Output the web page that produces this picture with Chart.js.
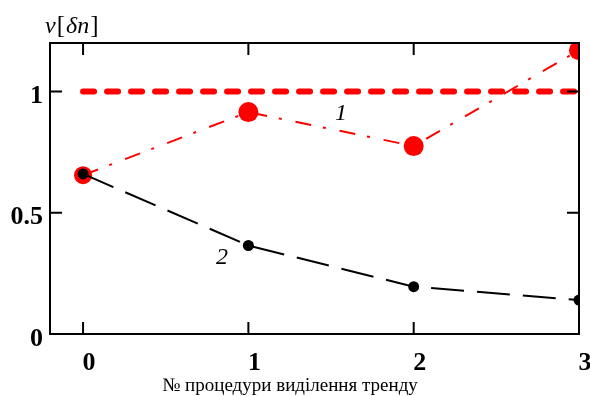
<!DOCTYPE html>
<html>
<head>
<meta charset="utf-8">
<script src="https://cdn.jsdelivr.net/npm/chart.js@4.4.1/dist/chart.umd.min.js"></script>
<style>
  html, body { margin: 0; padding: 0; background: #fff; }
  #wrap { width: 590px; height: 396px; }
</style>
</head>
<body>
<div id="wrap"><canvas id="chart" width="590" height="396"></canvas></div>
<script>
// Values.
const procedures = [0, 1, 2, 3];
const series1 = [0.655, 0.915, 0.775, 1.17];
const series2 = [0.66, 0.365, 0.195, 0.14];
const levelX = [0, 3];
const levelY = [1, 1];
const yTicks = [0, 0.5, 1];
const yTickLabels = ['0', '0.5', '1'];
const seriesNames = ['1', '2'];
const xTitle = '№ процедури виділення тренду';

const SERIF = '"Liberation Serif", "DejaVu Serif", serif';

const toPoints = ( xs, ys ) => xs.map( ( x, i ) => ( { x: x, y: ys[ i ] } ) );

// Frame, inward tick marks and the text labels drawn over the plot.
const framePlugin = {
  id: 'frame',
  afterDraw( chart ) {
    const { ctx, chartArea: a, scales: { x, y } } = chart;
    ctx.save();
    ctx.strokeStyle = '#000';
    ctx.lineWidth = 2;
    ctx.strokeRect( a.left, a.top, a.right - a.left, a.bottom - a.top );
    ctx.beginPath();
    procedures.forEach( v => {
      const px = x.getPixelForValue( v );
      ctx.moveTo( px, a.bottom );
      ctx.lineTo( px, a.bottom - 12 );
      ctx.moveTo( px, a.top );
      ctx.lineTo( px, a.top + 12 );
    } );
    yTicks.forEach( v => {
      const py = y.getPixelForValue( v );
      ctx.moveTo( a.left, py );
      ctx.lineTo( a.left + 12, py );
      ctx.moveTo( a.right, py );
      ctx.lineTo( a.right - 12, py );
    } );
    ctx.stroke();

    // series numbers
    ctx.fillStyle = '#000';
    ctx.font = 'italic 24px ' + SERIF;
    ctx.textAlign = 'center';
    ctx.textBaseline = 'middle';
    ctx.fillText( seriesNames[ 0 ], x.getPixelForValue( 1.56 ), y.getPixelForValue( 0.91 ) );
    ctx.fillText( seriesNames[ 1 ], x.getPixelForValue( 0.84 ), y.getPixelForValue( 0.315 ) );

    // y axis title: ν[δn]
    const parts = [
      [ 'ν', 'italic 24px ' ],
      [ '[', '25px ' ],
      [ 'δn', 'italic 24px ' ],
      [ ']', '25px ' ]
    ];
    let cx = 45;
    ctx.textAlign = 'left';
    ctx.textBaseline = 'alphabetic';
    parts.forEach( p => {
      ctx.font = p[ 1 ] + SERIF;
      ctx.fillText( p[ 0 ], cx, 33 );
      cx += ctx.measureText( p[ 0 ] ).width + 1;
    } );

    // x axis title
    ctx.font = '19px ' + SERIF;
    ctx.textAlign = 'center';
    ctx.fillText( xTitle, 290, 391 );
    ctx.restore();
  }
};

new Chart( document.getElementById( 'chart' ), {
  type: 'line',
  data: {
    datasets: [
      {
        label: seriesNames[ 1 ],
        data: toPoints( procedures, series2 ),
        borderColor: '#000',
        backgroundColor: '#000',
        borderWidth: 2,
        borderDash: [ 33, 13 ],
        pointRadius: 5.5,
        pointBorderWidth: 0,
        tension: 0,
        clip: 0,
        order: 0
      },
      {
        label: seriesNames[ 0 ],
        data: toPoints( procedures, series1 ),
        borderColor: '#ff0000',
        backgroundColor: '#ff0000',
        borderWidth: 2,
        borderDash: [ 16, 12, 3, 14 ],
        pointRadius: [ 9, 10, 10, 10 ],
        pointBorderWidth: 0,
        tension: 0,
        clip: 0,
        order: 1
      },
      {
        label: 'level',
        data: toPoints( levelX, levelY ),
        borderColor: '#ff0000',
        borderWidth: 6,
        borderDash: [ 11, 13 ],
        borderCapStyle: 'round',
        pointRadius: 0,
        clip: 0,
        order: 2
      }
    ]
  },
  options: {
    responsive: false,
    animation: false,
    events: [],
    layout: { padding: { top: 43, right: 11, left: 0, bottom: 0 } },
    plugins: {
      legend: { display: false },
      tooltip: { enabled: false },
      title: { display: false }
    },
    scales: {
      x: {
        type: 'linear',
        min: -0.2,
        max: 3,
        afterBuildTicks: scale => { scale.ticks = procedures.map( v => ( { value: v } ) ); },
        afterFit: scale => {
          scale.height = 62;
          scale.paddingLeft = 0;
          scale.paddingRight = 0;
        },
        grid: { display: false, drawTicks: false },
        border: { display: false },
        ticks: {
          color: '#000',
          font: { family: SERIF, size: 26, weight: 'bold' },
          padding: 14,
          labelOffset: 6,
          maxRotation: 0,
          callback: v => String( v )
        }
      },
      y: {
        type: 'linear',
        min: 0,
        max: 1.2,
        afterBuildTicks: scale => { scale.ticks = yTicks.map( v => ( { value: v } ) ); },
        afterFit: scale => {
          scale.width = 50;
          scale.paddingTop = 0;
          scale.paddingBottom = 0;
        },
        grid: { display: false, drawTicks: false },
        border: { display: false },
        ticks: {
          color: '#000',
          font: { family: SERIF, size: 26, weight: 'bold' },
          padding: 7,
          labelOffset: 5,
          callback: v => yTickLabels[ yTicks.indexOf( v ) ]
        }
      }
    }
  },
  plugins: [ framePlugin ]
} );
</script>
</body>
</html>
